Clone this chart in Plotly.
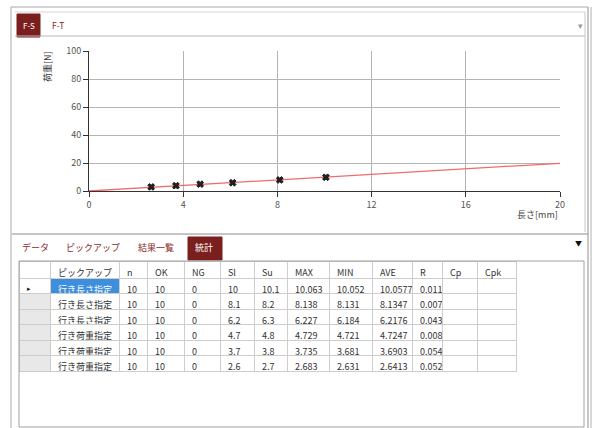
import plotly.graph_objects as go

W, H = 597, 428
FONT = "Noto Sans CJK JP"

# ---- chart data ----
line_x = [0, 20]
line_y = [0, 19.8]
marker_x = [2.64, 3.69, 4.72, 6.1, 8.1, 10.06]
marker_y = [2.9, 3.8, 4.9, 5.9, 7.9, 9.8]
x_ticks = [0, 4, 8, 12, 16, 20]
y_ticks = [0, 20, 40, 60, 80, 100]

# ---- table data ----
columns = ["", "ピックアップ", "n", "OK", "NG", "Sl", "Su", "MAX", "MIN", "AVE", "R", "Cp", "Cpk"]
row_marker = ["▸", "", "", "", "", ""]
pickup = ["行き長さ指定", "行き長さ指定", "行き長さ指定", "行き荷重指定", "行き荷重指定", "行き荷重指定"]
n_vals = [10, 10, 10, 10, 10, 10]
ok_vals = [10, 10, 10, 10, 10, 10]
ng_vals = [0, 0, 0, 0, 0, 0]
sl_vals = [10, 8.1, 6.2, 4.7, 3.7, 2.6]
su_vals = [10.1, 8.2, 6.3, 4.8, 3.8, 2.7]
max_vals = [10.063, 8.138, 6.227, 4.729, 3.735, 2.683]
min_vals = [10.052, 8.131, 6.184, 4.721, 3.681, 2.631]
ave_vals = [10.0577, 8.1347, 6.2176, 4.7247, 3.6903, 2.6413]
r_vals = [0.011, 0.007, 0.043, 0.008, 0.054, 0.052]
cp_vals = ["", "", "", "", "", ""]
cpk_vals = ["", "", "", "", "", ""]
col_widths = [31, 69, 28, 37, 36, 34, 33, 42, 43, 40, 30, 35, 39]


def X(px):
    return px / W


def Y(py):
    return 1 - py / H


def fmt(vals):
    return [f"{v:g}" if isinstance(v, (int, float)) else v for v in vals]


fig = go.Figure()

fig.add_trace(go.Scatter(x=line_x, y=line_y, mode="lines",
                         line=dict(color="#f26a6a", width=1.3),
                         hoverinfo="skip", showlegend=False))
fig.add_trace(go.Scatter(x=marker_x, y=marker_y, mode="markers",
                         marker=dict(symbol="x", size=6, color="#222222",
                                     line=dict(width=0.8, color="#000000")),
                         showlegend=False))

cell_values = [row_marker, pickup, fmt(n_vals), fmt(ok_vals), fmt(ng_vals),
               fmt(sl_vals), fmt(su_vals), fmt(max_vals), fmt(min_vals),
               fmt(ave_vals), fmt(r_vals), cp_vals, cpk_vals]
nrows = len(pickup)
fill_cols = []
font_cols = []
for i in range(len(columns)):
    if i == 0:
        fill_cols.append(["white"] + ["#e8e8e8"] * (nrows - 1))
        font_cols.append(["#222222"] * nrows)
    elif i == 1:
        fill_cols.append(["#3d8fdc"] + ["white"] * (nrows - 1))
        font_cols.append(["white"] + ["#333333"] * (nrows - 1))
    else:
        fill_cols.append(["white"] * nrows)
        font_cols.append(["#333333"] * nrows)

fig.add_trace(go.Table(
    domain=dict(x=[X(19), X(516)], y=[0, Y(261)]),
    columnwidth=col_widths,
    header=dict(values=columns, align="left", height=17,
                fill=dict(color="white"),
                line=dict(color="#cdcdcd", width=1),
                font=dict(family=FONT, size=9, color="#333333")),
    cells=dict(values=cell_values, align="left", height=15.5,
               fill=dict(color=fill_cols),
               line=dict(color="#cdcdcd", width=1),
               font=dict(family=FONT, size=[7] + [9] * 12, color=font_cols)),
))

axis_common = dict(showline=True, linecolor="#333333", linewidth=1,
                   ticks="outside", ticklen=5, tickcolor="#333333",
                   showgrid=True, gridcolor="#b4b4b4", gridwidth=1,
                   zeroline=False,
                   tickfont=dict(family=FONT, size=9, color="#555555"))

fig.update_layout(
    width=W, height=H,
    margin=dict(l=0, r=0, t=0, b=0, autoexpand=False),
    paper_bgcolor="white", plot_bgcolor="white",
    font=dict(family=FONT),
    xaxis=dict(domain=[X(89), X(560)], range=[0, 20], tickvals=x_ticks, automargin=False, **axis_common),
    yaxis=dict(domain=[Y(191), Y(51)], range=[0, 100], tickvals=y_ticks, automargin=False, **axis_common),
)

shapes = []


def line(x0, y0, x1, y1, color="#a8a8a8", width=1):
    shapes.append(dict(type="line", xref="paper", yref="paper",
                       x0=X(x0), y0=Y(y0), x1=X(x1), y1=Y(y1),
                       line=dict(color=color, width=width)))


def rect(x0, y0, x1, y1, fill=None, color="#a8a8a8", width=1):
    shapes.append(dict(type="rect", xref="paper", yref="paper",
                       x0=X(x0), y0=Y(y0), x1=X(x1), y1=Y(y1),
                       fillcolor=fill if fill else "rgba(0,0,0,0)",
                       line=dict(color=color, width=width), layer="below" if fill else "above"))


# outer frame
line(11, 7, 588, 7)
line(11, 7, 11, 428)
line(588, 7, 588, 428, color="#909090")
line(591, 7, 591, 428, color="#b0b0b0")
# top tab bar
line(15, 12, 585, 12, color="#d4d4d4")
line(15, 36, 585, 36, color="#b8b8b8")
line(585, 12, 585, 232, color="#c8c8c8")
rect(17, 14, 40, 37, fill="#7a1e1e", color="#7a1e1e")
# lower tabs
line(12, 234, 588, 234, color="#8c8c8c")
rect(188, 237, 222, 260, fill="#7a1e1e", color="#7a1e1e")
# table frame
rect(19, 261, 584, 427, color="#a0a0a0")
fig.update_layout(shapes=shapes)

ann = []


def text(x, y, s, size=9, color="#333333", xanchor="center", angle=0):
    ann.append(dict(xref="paper", yref="paper", x=X(x), y=Y(y), text=s,
                    showarrow=False, xanchor=xanchor, yanchor="middle",
                    textangle=angle,
                    font=dict(family=FONT, size=size, color=color)))


text(28.5, 25, "F-S", size=8, color="white")
text(58, 25, "F-T", size=8.5, color="#8a2323")
text(580, 25, "▾", size=9, color="#9a9a9a")
text(47, 67, "荷重[N]", size=9, color="#333333", angle=-90)
text(560, 214, "長さ[mm]", size=9, color="#444444", xanchor="right")
text(35, 248, "データ", size=9, color="#8a2a2a")
text(93, 248, "ピックアップ", size=9, color="#8a2a2a")
text(156, 248, "結果一覧", size=9, color="#8a2a2a")
text(193, 247, "統計", size=9, color="white", xanchor="left")
text(578, 243, "▼", size=7, color="#111111")
fig.update_layout(annotations=ann)

fig.write_html("out.html",
               config={"displayModeBar": False},
               post_script="document.body.style.margin='0';document.body.style.overflow='hidden';")
